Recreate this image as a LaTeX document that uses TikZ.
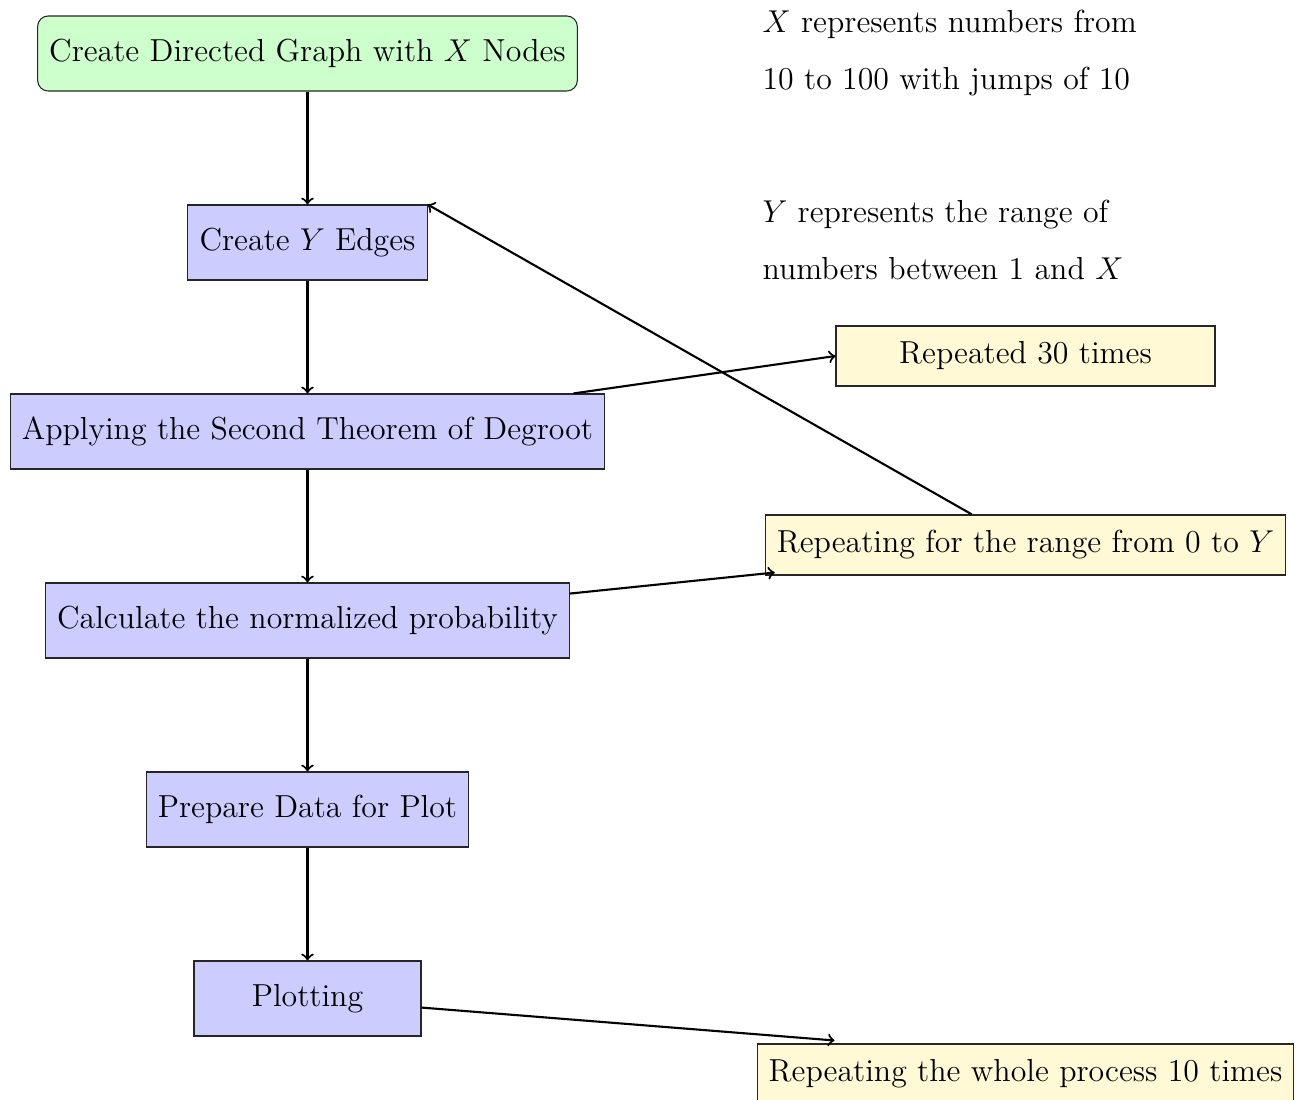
\documentclass[tikz,border=0pt]{standalone}
\usetikzlibrary{arrows}
\newcommand\pu{0.38pt}
\definecolor{notefill}{HTML}{FFF9D6}
\tikzset{
  base/.style={draw=black!85, inner xsep=4.4pt, font=\fontsize{12.1}{14}\selectfont},
  startbox/.style={base, rounded corners=4pt, fill=green!20,
    minimum width=227*\pu, minimum height=75*\pu},
  procbox/.style={base, fill=blue!20,
    minimum width=227*\pu, minimum height=75*\pu},
  notebox/.style={base, fill=notefill,
    minimum width=379*\pu, minimum height=60*\pu},
  remark/.style={font=\fontsize{12.1}{14}\selectfont, inner sep=0pt, anchor=base west},
  arr/.style={->, thick}
}
\begin{document}
\begin{tikzpicture}[x=\pu, y=-\pu]
\useasboundingbox (0,0) rectangle (1299,1100);

% main flow
\node[startbox] (top)   at (307.5,53.5)  {Create Directed Graph with $X$ Nodes};
\node[procbox]  (edges) at (307.5,242.5) {Create $Y$ Edges};
\node[procbox]  (apply) at (307.5,431.5) {Applying the Second Theorem of Degroot};
\node[procbox]  (calc)  at (307.5,620.5) {Calculate the normalized probability};
\node[procbox]  (prep)  at (307.5,809.5) {Prepare Data for Plot};
\node[procbox]  (plot)  at (307.5,998.5) {Plotting};

% repetition notes
\node[notebox] (rep30) at (1025.5,356)  {Repeated 30 times};
\node[notebox] (range) at (1025.5,545)  {Repeating for the range from 0 to $Y$};
\node[notebox] (whole) at (1025.5,1074) {Repeating the whole process 10 times};

% remarks on X and Y
\node[remark] (xa) at (762,33)  {$X$ represents numbers from};
\node[remark] (xb) at (762,90)  {10 to 100 with jumps of 10};
\node[remark] (ya) at (762,223) {$Y$ represents the range of};
\node[remark] (yb) at (762,280) {numbers between 1 and $X$};

% connectors
\draw[arr] (top) -- (edges);
\draw[arr] (edges) -- (apply);
\draw[arr] (apply) -- (calc);
\draw[arr] (calc) -- (prep);
\draw[arr] (prep) -- (plot);
\draw[arr] (apply) -- (rep30.west);
\draw[arr] (calc) -- ([shift={(10,-3)}]range.south west);
\draw[arr] (range) -- (edges.north east);
\draw[arr] (plot) -- ([shift={(78,-3)}]whole.north west);
\end{tikzpicture}
\end{document}
